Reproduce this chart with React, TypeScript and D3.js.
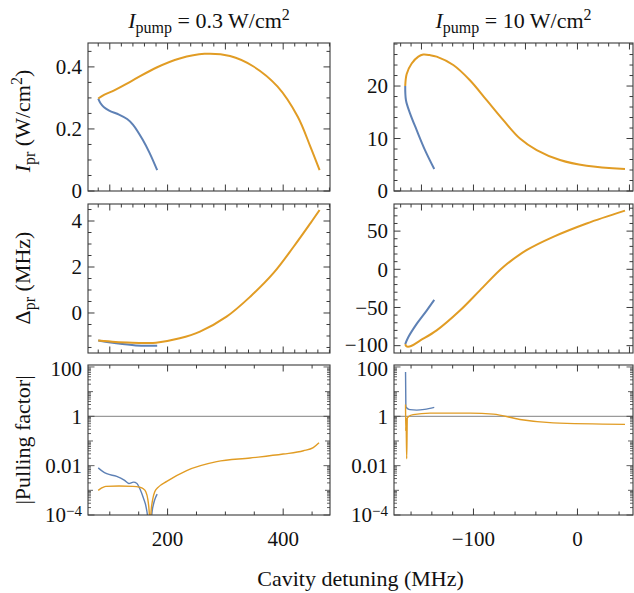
import { useEffect, useRef } from 'react'
import * as d3 from 'd3'

const BLUE = '#5e81b5'
const ORANGE = '#e19c24'
const FRAME = '#3a3a3a'
const FONT = '"Liberation Serif", "Times New Roman", serif'

// left column: I_pump = 0.3 W/cm^2, x in MHz
const lowIprOrange = [[80, 0.298], [90, 0.31], [104, 0.321], [139, 0.356], [181, 0.398], [221, 0.427], [264, 0.442], [308, 0.435], [348, 0.402], [390, 0.337], [425, 0.24], [447, 0.143], [463, 0.067]]
const lowIprBlue = [[80, 0.298], [84, 0.283], [90, 0.27], [99, 0.259], [116, 0.246], [130, 0.232], [140, 0.214], [157, 0.165], [169, 0.122], [182, 0.067]]
const lowShiftOrange = [[80, -1.2], [110, -1.26], [139, -1.29], [160, -1.3], [180, -1.29], [221, -1.1], [256, -0.81], [302, -0.16], [343, 0.71], [383, 1.73], [418, 2.88], [447, 3.9], [463, 4.48]]
const lowShiftBlue = [[80, -1.2], [111, -1.32], [145, -1.41], [182, -1.42]]
const lowPullOrange = [[80, 1e-3], [86, 1.25e-3], [93, 1.45e-3], [116, 1.5e-3], [140, 1.45e-3], [151, 1.35e-3], [158, 1.15e-3], [162, 9e-4], [166, 4e-4], [168.5, 1e-4], [169.7, 2e-5], [171, 1e-4], [174, 4e-4], [178, 9e-4], [184, 1.35e-3], [198.6, 2.3e-3], [233, 6.3e-3], [285, 1.45e-2], [343, 2.04e-2], [400, 2.95e-2], [435, 4e-2], [452, 5.4e-2], [462, 8.5e-2]]
const lowPullBlue = [[80, 8.1e-3], [87, 6e-3], [94.7, 4.7e-3], [112, 3.7e-3], [125, 2.6e-3], [133, 1.9e-3], [141, 2.15e-3], [147, 1.9e-3], [152, 1.15e-3], [158, 5e-4], [163, 2e-4], [166, 6e-5], [167.5, 1e-5], [171, 1e-5], [172.6, 1e-4], [176, 3e-4], [179, 5e-4], [182, 7e-4]]

// right column: I_pump = 10 W/cm^2
const highIprOrange = [[-165.6, 20], [-164.2, 22.3], [-159.4, 24.3], [-153, 25.6], [-148.3, 26], [-142, 25.9], [-135.4, 25.6], [-119.4, 24], [-103.4, 21.1], [-87.3, 17.3], [-71.3, 13.5], [-55.3, 10], [-39.2, 7.8], [-16.8, 5.9], [8.8, 4.8], [45.7, 4.2]]
const highIprBlue = [[-165.6, 20], [-164.9, 17.3], [-161, 14.8], [-154.6, 11.6], [-146.6, 7.8], [-137.7, 4.2]]
const highShiftOrange = [[-165.6, -98], [-164.5, -100.8], [-163, -101.3], [-160, -100.5], [-151.4, -93.4], [-135.4, -80], [-113, -54], [-93.8, -27.6], [-71.3, 3], [-49, 25], [-23.3, 42.5], [8.8, 60], [45.7, 76.8]]
const highShiftBlue = [[-165.6, -98], [-162.7, -89], [-154.6, -71.5], [-145, -54], [-137.7, -40]]
const highPullOrange = [[-165.3, 3], [-165.1, 0.25], [-164.8, 0.9], [-164.2, 0.019], [-163.6, 0.85], [-162, 1.0], [-158, 1.17], [-141.8, 1.35], [-103, 1.35], [-81, 1.23], [-55.3, 0.74], [-23.3, 0.54], [45.7, 0.47]]
const highPullBlue = [[-165.3, 63], [-165.0, 2.5], [-163, 2.0], [-161, 1.86], [-154.6, 1.78], [-147, 1.9], [-137.7, 2.3]]

const lowXLabels = [200, 400]
const highXLabels = [-100, 0]
const lowIprLabels = [0, 0.2, 0.4]
const highIprLabels = [0, 10, 20]
const lowShiftLabels = [0, 2, 4]
const highShiftLabels = [-100, -50, 0, 50]
const pullLabels = [1e-4, 0.01, 1, 100]

const fmt = (v: number) => (v < 0 ? '\u2212' + Math.abs(v) : String(v))

function steps(lo: number, hi: number, step: number) {
    const out: number[] = []
    for (let k = Math.ceil(lo / step - 1e-9); k * step <= hi + 1e-9; k++) out.push(+(k * step).toFixed(6))
    return out
}

function isMultiple(v: number, m: number) {
    return Math.abs(v / m - Math.round(v / m)) < 1e-6
}

function App() {
    const ref = useRef<SVGSVGElement>(null)

    useEffect(() => {
        const svg = d3.select(ref.current)
        svg.selectAll('*').remove()

        const colX = [[88, 330], [394, 633]]
        const rowY = [[43, 191], [204, 353], [365, 515]]

        const lowX = d3.scaleLinear().domain([62.3, 481]).range(colX[0])
        const highX = d3.scaleLinear().domain([-176.4, 53.4]).range(colX[1])

        const panels: any[] = [
            { id: 'a', x: lowX, y: d3.scaleLinear().domain([0, 0.477]).range([rowY[0][1], rowY[0][0]]), xStep: 20, xMajor: 100, yStep: 0.05, yMajor: 0.2, yLabels: lowIprLabels, series: [[lowIprBlue, BLUE], [lowIprOrange, ORANGE]], lw: 2 },
            { id: 'b', x: highX, y: d3.scaleLinear().domain([0, 28.2]).range([rowY[0][1], rowY[0][0]]), xStep: 10, xMajor: 50, yStep: 2, yMajor: 10, yLabels: highIprLabels, series: [[highIprBlue, BLUE], [highIprOrange, ORANGE]], lw: 2 },
            { id: 'c', x: lowX, y: d3.scaleLinear().domain([-1.74, 4.74]).range([rowY[1][1], rowY[1][0]]), xStep: 20, xMajor: 100, yStep: 0.5, yMajor: 2, yLabels: lowShiftLabels, series: [[lowShiftBlue, BLUE], [lowShiftOrange, ORANGE]], lw: 2 },
            { id: 'd', x: highX, y: d3.scaleLinear().domain([-109.6, 85.5]).range([rowY[1][1], rowY[1][0]]), xStep: 10, xMajor: 50, yStep: 10, yMajor: 50, yLabels: highShiftLabels, series: [[highShiftBlue, BLUE], [highShiftOrange, ORANGE]], lw: 2 },
            { id: 'e', x: lowX, y: d3.scaleLog().domain([1e-4, 120]).range([rowY[2][1], rowY[2][0]]), log: true, xStep: 50, xMajor: 200, xLabels: lowXLabels, yLabels: pullLabels, series: [[lowPullBlue, BLUE], [lowPullOrange, ORANGE]], lw: 1.4 },
            { id: 'f', x: highX, y: d3.scaleLog().domain([1e-4, 120]).range([rowY[2][1], rowY[2][0]]), log: true, xStep: 20, xMajor: 100, xLabels: highXLabels, yLabels: pullLabels, series: [[highPullBlue, BLUE], [highPullOrange, ORANGE]], lw: 1.4 },
        ]

        const defs = svg.append('defs')

        for (const p of panels) {
            const [xl, xr] = p.x.range()
            const [yb, yt] = p.y.range()
            const g = svg.append('g')

            defs
                .append('clipPath')
                .attr('id', 'clip-' + p.id)
                .append('rect')
                .attr('x', xl)
                .attr('y', yt)
                .attr('width', xr - xl)
                .attr('height', yb - yt)

            const plot = g.append('g').attr('clip-path', `url(#clip-${p.id})`)

            if (p.log) {
                plot
                    .append('line')
                    .attr('x1', xl)
                    .attr('x2', xr)
                    .attr('y1', p.y(1))
                    .attr('y2', p.y(1))
                    .style('stroke', '#9a9a9a')
                    .style('stroke-width', 1.2)
            }

            // smooth curves on the linear panels, monotone on the log ones so the spikes stay sharp
            const path = d3
                .line<number[]>()
                .x(d => p.x(d[0]))
                .y(d => p.y(d[1]))
                .curve(p.log ? d3.curveMonotoneX : d3.curveCatmullRom.alpha(0.5))

            for (const [data, color] of p.series) {
                plot
                    .append('path')
                    .datum(data)
                    .attr('d', path)
                    .style('fill', 'none')
                    .style('stroke', color)
                    .style('stroke-width', p.lw)
                    .style('stroke-linejoin', 'round')
            }

            // x ticks, bottom and top edges
            const [dx0, dx1] = p.x.domain()
            for (const v of steps(dx0, dx1, p.xStep)) {
                const len = isMultiple(v, p.xMajor) ? 6.5 : 3.5
                const px = p.x(v)
                g.append('line').attr('x1', px).attr('x2', px).attr('y1', yb).attr('y2', yb - len).style('stroke', FRAME)
                g.append('line').attr('x1', px).attr('x2', px).attr('y1', yt).attr('y2', yt + len).style('stroke', FRAME)
            }

            // y ticks, left and right edges
            let yTicks: [number, number][] = []
            if (p.log) {
                for (let k = -5; k <= 2; k++) {
                    for (let m = 1; m <= 9; m++) {
                        const v = m * Math.pow(10, k)
                        if (v < 1e-4 - 1e-12 || v > 120) continue
                        yTicks.push([v, m === 1 ? (k % 2 === 0 ? 6.5 : 5) : 3])
                    }
                }
            } else {
                const [dy0, dy1] = p.y.domain()
                yTicks = steps(dy0, dy1, p.yStep).map(v => [v, isMultiple(v, p.yMajor) ? 6.5 : 3.5])
            }
            for (const [v, len] of yTicks) {
                const py = p.y(v)
                g.append('line').attr('x1', xl).attr('x2', xl + len).attr('y1', py).attr('y2', py).style('stroke', FRAME).style('stroke-width', p.log ? 0.8 : 1)
                g.append('line').attr('x1', xr).attr('x2', xr - len).attr('y1', py).attr('y2', py).style('stroke', FRAME).style('stroke-width', p.log ? 0.8 : 1)
            }

            // y tick labels
            for (const v of p.yLabels) {
                const t = g
                    .append('text')
                    .attr('x', xl - 6)
                    .attr('y', p.y(v) + (p.log && v === 100 ? 1.5 : 0) - (!p.log && v === -100 ? 1 : 0))
                    .attr('dy', '0.35em')
                    .style('text-anchor', 'end')
                    .style('font-family', FONT)
                    .style('font-size', '21px')
                    .style('fill', '#111')
                if (p.log && v === 1e-4) {
                    t.append('tspan').text('10')
                    t.append('tspan').attr('dy', '-0.45em').style('font-size', '15px').text('\u22124')
                } else {
                    t.text(fmt(v))
                }
            }

            if (p.xLabels) {
                for (const v of p.xLabels) {
                    g.append('text')
                        .attr('x', p.x(v))
                        .attr('y', yb + 31)
                        .style('text-anchor', 'middle')
                        .style('font-family', FONT)
                        .style('font-size', '21px')
                        .style('fill', '#111')
                        .text(fmt(v))
                }
            }

            g.append('rect')
                .attr('x', xl)
                .attr('y', yt)
                .attr('width', xr - xl)
                .attr('height', yb - yt)
                .style('fill', 'none')
                .style('stroke', FRAME)
                .style('stroke-width', 1.1)
        }

        // column titles
        const titles = [['0.3', (colX[0][0] + colX[0][1]) / 2], ['10', (colX[1][0] + colX[1][1]) / 2]]
        for (const [val, cx] of titles) {
            const t = svg
                .append('text')
                .attr('x', cx)
                .attr('y', 28)
                .style('text-anchor', 'middle')
                .style('font-family', FONT)
                .style('font-size', '22px')
                .style('fill', '#111')
            t.append('tspan').style('font-style', 'italic').text('I')
            t.append('tspan').attr('dy', 5).style('font-size', '16px').text('pump')
            t.append('tspan').attr('dy', -5).text(` = ${val} W/cm`)
            t.append('tspan').attr('dy', -8).style('font-size', '16px').text('2')
        }

        // y axis titles
        const yTitle = (cy: number) =>
            svg
                .append('text')
                .attr('transform', `translate(30, ${cy}) rotate(-90)`)
                .style('text-anchor', 'middle')
                .style('font-family', FONT)
                .style('font-size', '22px')
                .style('fill', '#111')

        const t1 = yTitle(121)
        t1.append('tspan').style('font-style', 'italic').text('I')
        t1.append('tspan').attr('dy', 5).style('font-size', '16px').text('pr')
        t1.append('tspan').attr('dy', -5).text(' (W/cm')
        t1.append('tspan').attr('dy', -8).style('font-size', '16px').text('2')
        t1.append('tspan').attr('dy', 8).text(')')

        const t2 = yTitle(278)
        t2.append('tspan').text('\u0394')
        t2.append('tspan').attr('dy', 5).style('font-size', '16px').text('pr')
        t2.append('tspan').attr('dy', -5).text(' (MHz)')

        yTitle(440).text('|Pulling factor|')

        svg
            .append('text')
            .attr('x', (colX[0][0] + colX[1][1]) / 2)
            .attr('y', 586)
            .style('text-anchor', 'middle')
            .style('font-family', FONT)
            .style('font-size', '22px')
            .style('fill', '#111')
            .text('Cavity detuning (MHz)')
    }, [])

    return (
        <svg
            ref={ref}
            width={634}
            height={593}
            style={{ position: 'absolute', left: 0, top: 0, background: '#fff' }}
        />
    )
}

export default App
